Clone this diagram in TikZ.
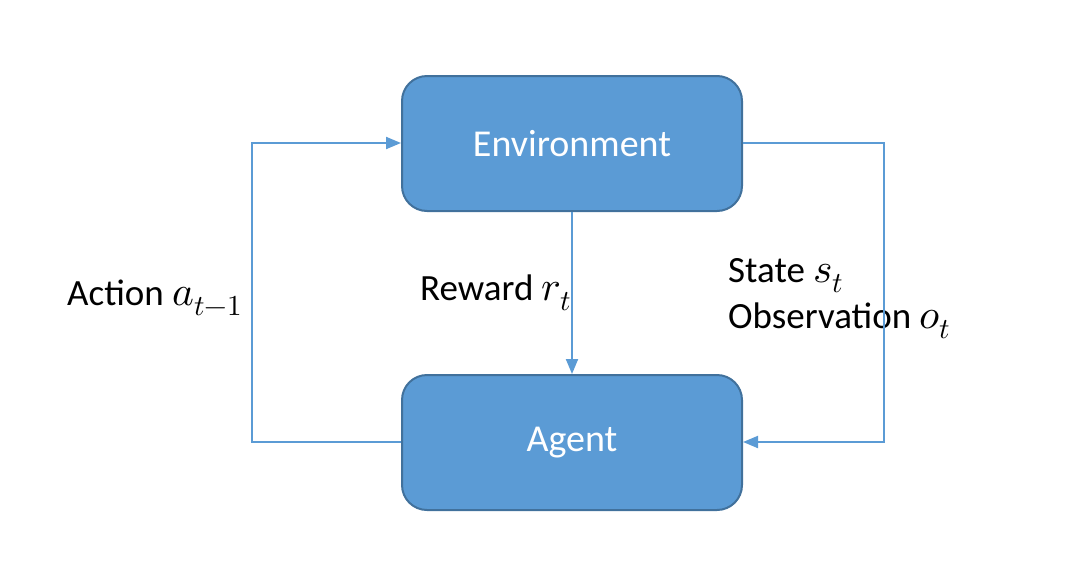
\documentclass[tikz,border=0pt]{standalone}
\usepackage{fontspec}
\usepackage{unicode-math}
\setmainfont{Carlito}
\setmathfont{Latin Modern Math}[Scale=1.12]
\usetikzlibrary{arrows.meta}
\definecolor{boxfill}{HTML}{5B9BD5}
\definecolor{boxline}{HTML}{41719C}
\begin{document}
\begin{tikzpicture}[x=1pt,y=-1pt,
  blk/.style={draw=boxline,line width=2pt,fill=boxfill,rounded corners=25pt,minimum width=340pt,minimum height=135pt,text=white,font=\fontsize{38}{44}\selectfont},
  conn/.style={draw=boxfill,line width=2pt,-{Triangle[length=15pt,width=12pt]}},
  lbl/.style={font=\fontsize{37}{44}\selectfont,anchor=base west,inner sep=0pt}]
\useasboundingbox (0,0) rectangle (1079,587);
\node[blk] (env) at (572,143.5) {Environment};
\node[blk] (agt) at (572,442.5) {Agent};
\coordinate (l1) at (252,442);
\coordinate (l2) at (252,143);
\coordinate (r1) at (884,143);
\coordinate (r2) at (884,442);
\node[lbl] (act) at (67,305) {Action $a_{t-1}$};
\node[lbl] (rew) at (420,300) {Reward $r_t$};
\node[lbl] (st) at (728,282) {State $s_t$};
\node[lbl] (obs) at (728,328) {Observation $o_t$};
\draw[conn] (agt.west |- l1) -- (l1) -- (l2) -- (env.west |- l2);
\draw[conn] (env.east |- r1) -- (r1) -- (r2) -- (agt.east |- r2);
\draw[conn] (env.south) -- (agt.north);
\end{tikzpicture}
\end{document}
